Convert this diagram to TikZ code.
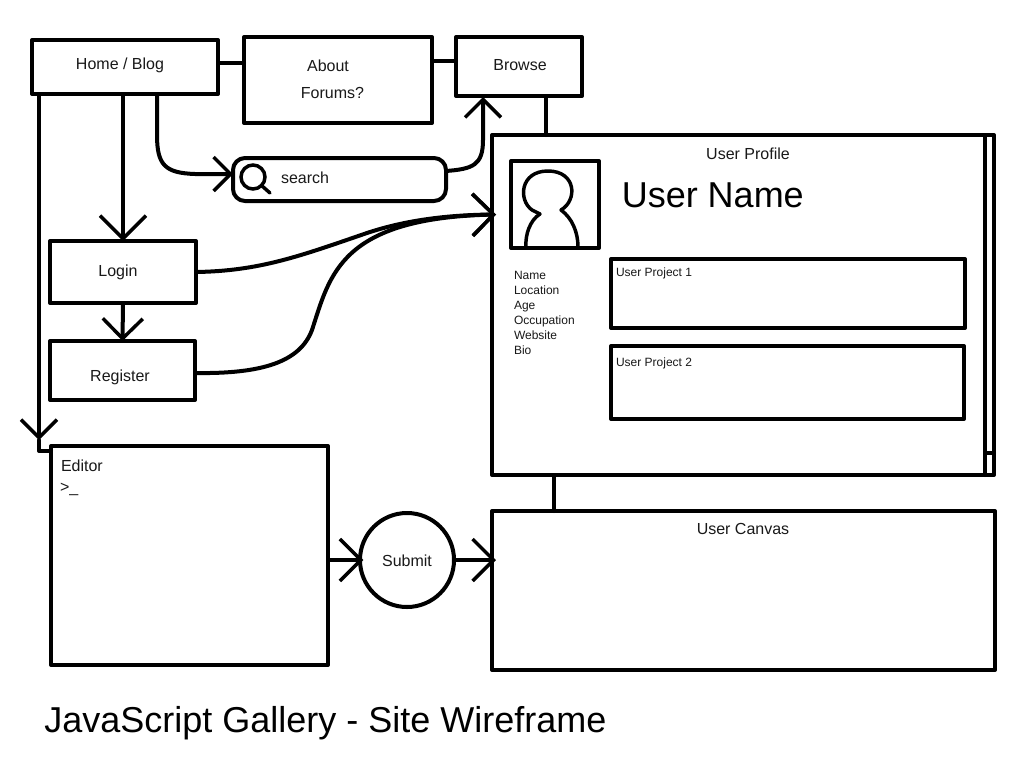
\documentclass[tikz,border=0pt]{standalone}
\usepackage{fontspec}
\setmainfont{Liberation Sans}
\usetikzlibrary{arrows.meta}
\def\px{0.75pt}
\tikzset{
  x=0.75pt,y=-0.75pt,
  wire/.style={line width=3pt,line join=round,line cap=round,draw=black},
  boxn/.style={draw=black,line width=3pt,line join=round,outer sep=0pt,inner sep=0pt,fill=white},
  lbl/.style={inner sep=0pt,outer sep=0pt,text=black!90,font=\fontsize{12pt}{14pt}\selectfont},
  smalllbl/.style={lbl,anchor=base west,font=\fontsize{9pt}{11pt}\selectfont},
  big/.style={inner sep=0pt,anchor=west,text=black,font=\fontsize{#1}{#1}\selectfont},
  vhead/.style={-{Straight Barb[length=#1*\px,width=2*#1*\px,line width=2.6pt]}},
  vhead/.default=19
}
\newcommand{\wbox}[6][]{%
  \pgfmathsetmacro{\bw}{(#5-#3)*0.75}\pgfmathsetmacro{\bh}{(#6-#4)*0.75}%
  \node[boxn,#1,minimum width=\bw pt,minimum height=\bh pt] (#2) at ({(#3+#5)/2},{(#4+#6)/2}) {};}
\begin{document}
\begin{tikzpicture}
\useasboundingbox (0,0) rectangle (1024,768);
\fill[white] (0,0) rectangle (1024,768);
\coordinate (homeEdit) at (39,451);
\coordinate (editTip) at (39,440);
% boxes
\wbox{home}{32}{40}{218}{94}
\wbox{about}{244}{37}{432}{123}
\wbox{browse}{456}{37}{582}{96}
\wbox[rounded corners=9pt]{search}{233}{158}{446}{201}
\wbox{login}{50}{241}{196}{303}
\wbox{register}{50}{341}{195}{400}
\wbox{editor}{51}{446}{328}{665}
\wbox{profile}{492}{135}{994}{475}
\wbox{canvas}{492}{511}{995}{670}
\wbox{avatar}{511}{161}{599}{248}
\wbox{projA}{611}{259}{965}{328}
\wbox{projB}{611}{346}{964}{419}
\node[circle,boxn,minimum size=70.5pt] (submit) at (407,560) {};
% profile scroll bar
\coordinate (sbTop) at (985,135);
\coordinate (sbBot) at (985,475);
\coordinate (sbL) at (985,453);
\coordinate (sbR) at (994,453);
\draw[wire] (sbTop) -- (sbBot);
\draw[wire] (sbL) -- (sbR);
% straight connectors
\coordinate (y63) at (0,63);
\coordinate (y61) at (0,61);
\draw[wire] (home.east |- y63) -- (about.west |- y63);
\draw[wire] (about.east |- y61) -- (browse.west |- y61);
\draw[wire] ([xshift=20.25pt]browse.south) -- ([xshift=20.25pt]browse.south |- profile.north);
\draw[wire] ([xshift=-141.75pt]profile.south) -- ([xshift=-141.75pt]profile.south |- canvas.north);
\draw[wire,vhead=23] (home.south -| login.north) -- (login.north);
\draw[wire,vhead=20] (login.south) -- (register.north);
\draw[wire,vhead=18] (home.south west -| editTip) -- (editTip);
\draw[wire] (editTip) -- (homeEdit) -- (homeEdit -| editor.west);
\draw[wire,vhead=21] (editor.east |- submit.west) -- ([xshift=2.5pt]submit.west);
\draw[wire,vhead=21] (submit.east) -- ([xshift=3pt]submit.east -| canvas.west);
% curved connectors
\coordinate (homeOut) at (157,94);
\coordinate (y174) at (0,174);
\coordinate (y373) at (0,373);
\draw[wire,vhead=17] (homeOut) -- (157,135) .. controls (157,165) and (165,173) .. (195,174) -- (search.west |- y174);
\coordinate (searchOut) at (446,171);
\coordinate (browseIn) at (483,97);
\draw[wire,vhead=18] (searchOut) .. controls (473,169) and (483,165) .. (483,140) -- (browseIn);
\coordinate (profileIn) at (496,214.5);
\draw[wire,vhead=21] (login.east) .. controls (260,271) and (300,256) .. (367,233) .. controls (400,222) and (440,215) .. (profileIn);
\draw[wire,vhead=21] (register.east |- y373) .. controls (262,374) and (300,362) .. (312,330) .. controls (330,275) and (340,218) .. (profileIn);
% search icon
\node[circle,draw=black,line width=2.6pt,minimum size=18pt,inner sep=0pt,outer sep=0pt] (lens) at (253,177) {};
\coordinate (handle) at (270,193);
\draw[wire,line width=2.6pt] (lens.south east) -- (handle);
% avatar
\coordinate (neckL) at (540,214);
\coordinate (neckR) at (561,210);
\draw[wire,line width=2.6pt] (neckL) -- (532,210) .. controls (518,200) and (520,171) .. (548,171) .. controls (576,171) and (578,200) .. (neckR)
  .. controls (572,218) and (578,232) .. (578,247);
\draw[wire,line width=2.6pt] (neckL) .. controls (530,220) and (525,235) .. (526,247);
% texts
\node[lbl] (tHome) at (120,65) {Home / Blog};
\node[lbl] (tAbout) at (328,66) {About};
\node[lbl] (tForums) at (332.5,93) {Forums?};
\node[lbl] (tBrowse) at (520,65) {Browse};
\node[lbl,anchor=west] (tSearch) at (281,178) {search};
\node[lbl] (tLogin) at (118,272) {Login};
\node[lbl] (tRegister) at (120,377) {Register};
\node[lbl] (tProfile) at (748,154) {User Profile};
\node[big=27pt] (tName) at (621.5,195) {User Name};
\node[smalllbl] (n1) at (514,279) {Name};
\node[smalllbl] (n2) at (514,294) {Location};
\node[smalllbl] (n3) at (514,309) {Age};
\node[smalllbl] (n4) at (514,324) {Occupation};
\node[smalllbl] (n5) at (514,339) {Website};
\node[smalllbl] (n6) at (514,354) {Bio};
\node[smalllbl] (p1) at (616,276) {User Project 1};
\node[smalllbl] (p2) at (616,366) {User Project 2};
\node[lbl,anchor=base west] (tEditor) at (61,471) {Editor};
\node[lbl,anchor=base west] (tPrompt) at (60,492) {>\_};
\node[lbl] (tSubmit) at (407,561) {Submit};
\node[lbl] (tCanvas) at (743,529) {User Canvas};
\node[big=27pt] (tTitle) at (44,723) {JavaScript Gallery - Site Wireframe};
\end{tikzpicture}
\end{document}
